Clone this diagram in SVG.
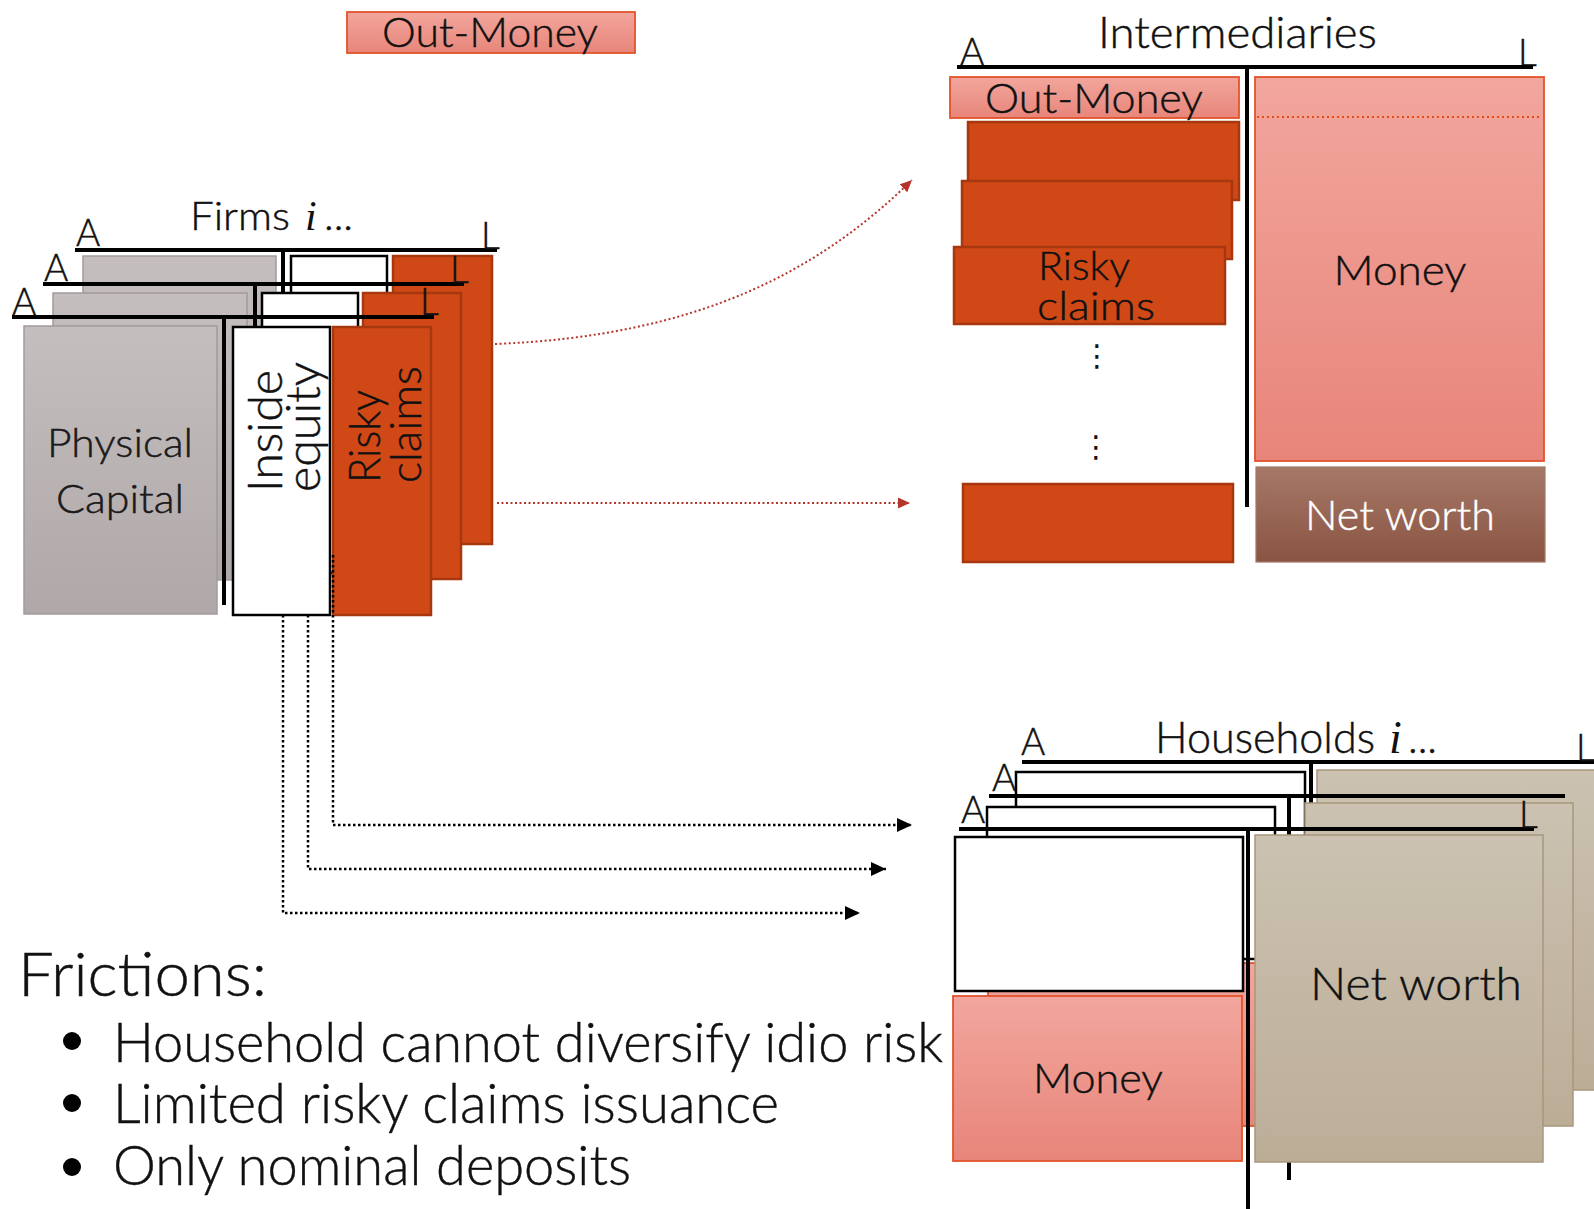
<svg xmlns="http://www.w3.org/2000/svg" width="1594" height="1209" viewBox="0 0 1594 1209">
  <style>
    text { font-family: Lato, "Open Sans", "Liberation Sans", sans-serif; font-weight: 300; fill: #111; stroke: #111; stroke-width: 0.45; }
    .ax { font-size: 37px; }
    .lbl { font-size: 42px; }
    .mi { font-family: "Liberation Serif", "DejaVu Serif", serif; font-style: italic; font-weight: 400; stroke-width: 0; }
    .bar { stroke: #000; stroke-width: 4; fill: none; }
    .grey { fill: url(#gGrey); stroke: #a39b9b; stroke-width: 1.5; }
    .white { fill: #fff; stroke: #000; stroke-width: 2.5; }
    .red { fill: #d14817; stroke: #a6370f; stroke-width: 2.5; }
    .pink { fill: url(#gPink); stroke: #e2542c; stroke-width: 1.8; }
    .brown { fill: url(#gBrown); stroke: #a07868; stroke-width: 1.2; }
    .tan { fill: url(#gTan); stroke: #a8967c; stroke-width: 1.5; }
    .dotBlack { fill: none; stroke: #000; stroke-width: 2.5; stroke-dasharray: 2.5 2.5; }
    .dotRed { fill: none; stroke: #b5352a; stroke-width: 2; stroke-dasharray: 2 2.5; }
  </style>
  <defs>
    <linearGradient id="gGrey" x1="0" y1="0" x2="0" y2="1">
      <stop offset="0" stop-color="#c4bebe"/>
      <stop offset="1" stop-color="#b0a8a8"/>
    </linearGradient>
    <linearGradient id="gPink" x1="0" y1="0" x2="0" y2="1">
      <stop offset="0" stop-color="#f2a69d"/>
      <stop offset="1" stop-color="#e8857a"/>
    </linearGradient>
    <linearGradient id="gBrown" x1="0" y1="0" x2="0" y2="1">
      <stop offset="0" stop-color="#a67868"/>
      <stop offset="1" stop-color="#8a5442"/>
    </linearGradient>
    <linearGradient id="gTan" x1="0" y1="0" x2="0" y2="1">
      <stop offset="0" stop-color="#cbc2b1"/>
      <stop offset="1" stop-color="#bcad97"/>
    </linearGradient>
    <marker id="arrowBlack" markerUnits="userSpaceOnUse" viewBox="0 0 16 16" markerWidth="16" markerHeight="16" refX="15" refY="8" orient="auto">
      <path d="M0,1 L15,8 L0,15 z" fill="#000"/>
    </marker>
    <marker id="arrowRed" markerUnits="userSpaceOnUse" viewBox="0 0 13 12" markerWidth="13" markerHeight="12" refX="12" refY="6" orient="auto">
      <path d="M0,0.5 L12,6 L0,11.5 z" fill="#b5352a"/>
    </marker>
  </defs>

  <!-- Outside money tag -->
  <g id="out-money-tag">
    <rect class="pink" x="347" y="12" width="288" height="41"/>
    <text class="lbl" x="490" y="47" text-anchor="middle" textLength="216" lengthAdjust="spacingAndGlyphs">Out-Money</text>
  </g>

  <!-- Firms: stacked balance sheets, back to front -->
  <g id="firms">
    <g id="firm-back">
      <rect class="grey" x="83" y="256" width="193" height="300"/>
      <rect class="white" x="291" y="256" width="96" height="290"/>
      <rect class="red" x="393" y="256" width="99" height="288"/>
      <line class="bar" x1="283" y1="250" x2="283" y2="300"/>
      <line class="bar" x1="75" y1="250" x2="497" y2="250"/>
      <text class="ax" x="76" y="246">A</text>
      <text class="ax" x="481" y="249">L</text>
      <text x="190" y="230" style="font-size:39px">
        <tspan textLength="100" lengthAdjust="spacingAndGlyphs">Firms</tspan><tspan class="mi" x="305" style="font-size:42px">i</tspan><tspan x="324" textLength="29" lengthAdjust="spacingAndGlyphs">...</tspan>
      </text>
    </g>
    <g id="firm-middle">
      <rect class="grey" x="53" y="293" width="194" height="287"/>
      <rect class="white" x="262" y="293" width="96" height="280"/>
      <rect class="red" x="363" y="293" width="98" height="286"/>
      <line class="bar" x1="255" y1="284" x2="255" y2="560"/>
      <line class="bar" x1="43" y1="284" x2="464" y2="284"/>
      <text class="ax" x="44" y="281">A</text>
      <text class="ax" x="450" y="283">L</text>
    </g>
    <g id="firm-front">
      <rect class="grey" x="24" y="326" width="193" height="288"/>
      <line class="bar" x1="224" y1="317" x2="224" y2="605"/>
      <rect class="white" x="233" y="327" width="97" height="288"/>
      <rect class="red" x="333" y="327" width="98" height="288"/>
      <line class="bar" x1="12" y1="317" x2="434" y2="317"/>
      <text class="ax" x="12" y="315">A</text>
      <text class="ax" x="420" y="315">L</text>
      <text x="120" y="457" text-anchor="middle" style="font-size:39px;fill:#1c1c1c" textLength="146" lengthAdjust="spacingAndGlyphs">Physical</text>
      <text x="120" y="513" text-anchor="middle" style="font-size:39px;fill:#1c1c1c" textLength="128" lengthAdjust="spacingAndGlyphs">Capital</text>
      <text transform="translate(282,492) rotate(-90)" style="font-size:47px" textLength="122" lengthAdjust="spacingAndGlyphs">Inside</text>
      <text transform="translate(320,492) rotate(-90)" style="font-size:47px" textLength="130" lengthAdjust="spacingAndGlyphs">equity</text>
      <text transform="translate(380,483) rotate(-90)" style="font-size:44px" textLength="93" lengthAdjust="spacingAndGlyphs">Risky</text>
      <text transform="translate(421,483) rotate(-90)" style="font-size:44px" textLength="117" lengthAdjust="spacingAndGlyphs">claims</text>
    </g>
  </g>

  <!-- Intermediaries balance sheet -->
  <g id="intermediaries">
    <text x="1098" y="48" style="font-size:43px" textLength="279" lengthAdjust="spacingAndGlyphs">Intermediaries</text>
    <text class="ax" x="960" y="65">A</text>
    <text class="ax" x="1518" y="66">L</text>
    <line class="bar" x1="957" y1="67" x2="1533" y2="67"/>
    <line class="bar" x1="1247" y1="67" x2="1247" y2="507"/>
    <g id="int-out-money">
      <rect class="pink" x="950" y="77" width="289" height="41"/>
      <text class="lbl" x="1094" y="113" text-anchor="middle" textLength="218" lengthAdjust="spacingAndGlyphs">Out-Money</text>
    </g>
    <g id="int-risky-claims">
      <rect class="red" x="968" y="122" width="271" height="78"/>
      <rect class="red" x="962" y="181" width="270" height="78"/>
      <rect class="red" x="954" y="247" width="271" height="77"/>
      <text x="1038" y="280" style="font-size:39px" textLength="92" lengthAdjust="spacingAndGlyphs">Risky</text>
      <text x="1037" y="320" style="font-size:39px" textLength="118" lengthAdjust="spacingAndGlyphs">claims</text>
      <text x="1097" y="366" text-anchor="middle" style="font-family:'DejaVu Sans',sans-serif;font-size:30px;font-weight:400;stroke-width:0">⋮</text>
      <text x="1096" y="457" text-anchor="middle" style="font-family:'DejaVu Sans',sans-serif;font-size:30px;font-weight:400;stroke-width:0">⋮</text>
      <rect class="red" x="963" y="484" width="270" height="78"/>
    </g>
    <g id="int-money">
      <rect class="pink" x="1255" y="77" width="289" height="384"/>
      <line x1="1257" y1="117" x2="1542" y2="117" stroke="#e04c1c" stroke-width="2" stroke-dasharray="2 3"/>
      <text class="lbl" x="1400" y="285" text-anchor="middle" textLength="133" lengthAdjust="spacingAndGlyphs">Money</text>
    </g>
    <g id="int-net-worth">
      <rect class="brown" x="1256" y="467" width="289" height="95"/>
      <text class="lbl" x="1400" y="530" text-anchor="middle" style="fill:#fff;stroke:#fff" textLength="190" lengthAdjust="spacingAndGlyphs">Net worth</text>
    </g>
  </g>

  <!-- Households: stacked balance sheets, back to front -->
  <g id="households">
    <g id="hh-back">
      <rect class="white" x="1016" y="772" width="289" height="200"/>
      <rect class="tan" x="1317" y="770" width="290" height="320"/>
      <line class="bar" x1="1311" y1="762" x2="1311" y2="850"/>
      <line class="bar" x1="1022" y1="762" x2="1594" y2="762"/>
      <text class="ax" x="1021" y="755">A</text>
      <text class="ax" x="1576" y="761">L</text>
      <text x="1155" y="753" style="font-size:43px">
        <tspan textLength="220" lengthAdjust="spacingAndGlyphs">Households</tspan><tspan class="mi" x="1389" style="font-size:46px">i</tspan><tspan x="1408" textLength="29" lengthAdjust="spacingAndGlyphs">...</tspan>
      </text>
    </g>
    <g id="hh-middle">
      <rect class="white" x="987" y="807" width="288" height="152"/>
      <rect class="pink" x="988" y="963" width="287" height="163"/>
      <line class="bar" x1="1289" y1="796" x2="1289" y2="1180"/>
      <rect class="tan" x="1305" y="803" width="268" height="323"/>
      <line class="bar" x1="989" y1="796" x2="1565" y2="796"/>
      <text class="ax" x="992" y="791">A</text>
    </g>
    <g id="hh-front">
      <rect class="white" x="955" y="837" width="288" height="154"/>
      <rect class="pink" x="953" y="996" width="289" height="165"/>
      <line class="bar" x1="1248" y1="829" x2="1248" y2="1209"/>
      <rect class="tan" x="1255" y="835" width="288" height="327"/>
      <line class="bar" x1="959" y1="829" x2="1534" y2="829"/>
      <text class="ax" x="961" y="823">A</text>
      <text class="ax" x="1519" y="828">L</text>
      <text class="lbl" x="1098" y="1093" text-anchor="middle" textLength="130" lengthAdjust="spacingAndGlyphs">Money</text>
      <text x="1416" y="1000" text-anchor="middle" style="font-size:46px" textLength="212" lengthAdjust="spacingAndGlyphs">Net worth</text>
    </g>
  </g>

  <!-- Flows between sectors -->
  <g id="connectors">
    <path class="dotRed" d="M495,344 C700,336 820,270 912,180" marker-end="url(#arrowRed)"/>
    <path class="dotRed" d="M497,503 H910" marker-end="url(#arrowRed)"/>
    <path class="dotBlack" d="M333,555 V825 H912" marker-end="url(#arrowBlack)"/>
    <path class="dotBlack" d="M308,615 V869 H886" marker-end="url(#arrowBlack)"/>
    <path class="dotBlack" d="M283,615 V913 H860" marker-end="url(#arrowBlack)"/>
  </g>

  <!-- Frictions list -->
  <g id="frictions">
    <text x="18" y="996" style="font-size:61px" textLength="249" lengthAdjust="spacingAndGlyphs">Frictions:</text>
    <circle cx="72" cy="1041" r="9" fill="#000"/>
    <circle cx="72" cy="1103" r="9" fill="#000"/>
    <circle cx="72" cy="1167" r="9" fill="#000"/>
    <text x="113" y="1062" style="font-size:56px" textLength="830" lengthAdjust="spacingAndGlyphs">Household cannot diversify idio risk</text>
    <text x="113" y="1123" style="font-size:56px" textLength="666" lengthAdjust="spacingAndGlyphs">Limited risky claims issuance</text>
    <text x="113" y="1185" style="font-size:56px" textLength="518" lengthAdjust="spacingAndGlyphs">Only nominal deposits</text>
  </g>
</svg>
